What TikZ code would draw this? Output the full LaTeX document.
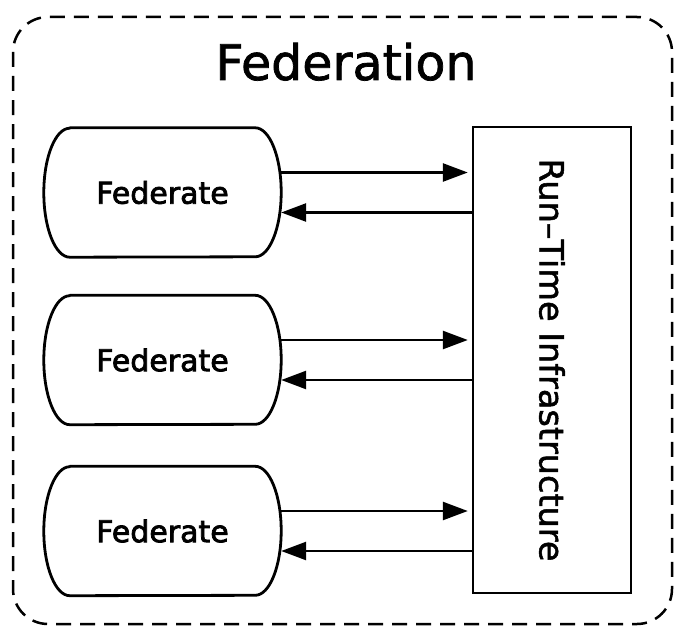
\documentclass[tikz,border=0pt]{standalone}
\usepackage{fontspec}
\setmainfont{DejaVu Sans}
\newfontfamily\heavy[FakeBold=1.5]{DejaVu Sans}
\newfontfamily\heavier[FakeBold=2.5]{DejaVu Sans}
\usetikzlibrary{arrows.meta}
\newcommand\fedshape[1]{%
  \draw[fedline] ([xshift=26pt]#1.north west) -- ([xshift=-26pt]#1.north east)
    arc[start angle=90,end angle=-90,x radius=26pt,y radius=64.5pt]
    -- ([xshift=26pt]#1.south west)
    arc[start angle=270,end angle=90,x radius=26pt,y radius=64.5pt] -- cycle;}
\begin{document}
\begin{tikzpicture}[x=1pt,y=1pt,
  frame/.style={draw, line width=2.5pt, dash pattern=on 15pt off 9pt, rounded corners=35pt},
  fedbox/.style={minimum width=237pt, minimum height=129pt, inner sep=0pt, font=\heavier\fontsize{30}{36}\selectfont},
  rtibox/.style={draw, line width=2.4pt, minimum width=158pt, minimum height=466pt, inner sep=0pt},
  arr/.style={line width=2.6pt, -{Triangle[length=25pt,width=18pt]}},
  fedline/.style={line width=2.8pt, line join=round}]
\useasboundingbox (0,0) rectangle (675,-626);
\fill[white] (0,0) rectangle (675,-626);
\draw[frame] (13,-17) rectangle (672,-624);
\node[font=\heavy\fontsize{49}{58}\selectfont, anchor=base, inner sep=0pt] (title) at (346,-80) {Federation};
\node[rtibox] (rti) at (552,-360) {};
\node[rotate=-90, font=\heavy\fontsize{33.5}{40}\selectfont, inner sep=0pt] (rtitext) at (rti.center) {Run–Time Infrastructure};
\node[fedbox] (f1) at (162.5,-192.5) {Federate};
\node[fedbox] (f2) at (162.5,-360) {Federate};
\node[fedbox] (f3) at (162.5,-531) {Federate};
\fedshape{f1}
\fedshape{f2}
\fedshape{f3}
\foreach \f in {f1,f2,f3}{
  \path (\f.east) ++(0,20) coordinate (\f o) (\f.east) ++(0,-20) coordinate (\f i);
  \draw[arr, shorten >=4pt] (\f o) -- (\f o -| rti.west);
  \draw[arr] (\f i -| rti.west) -- (\f i);
}
\end{tikzpicture}
\end{document}
